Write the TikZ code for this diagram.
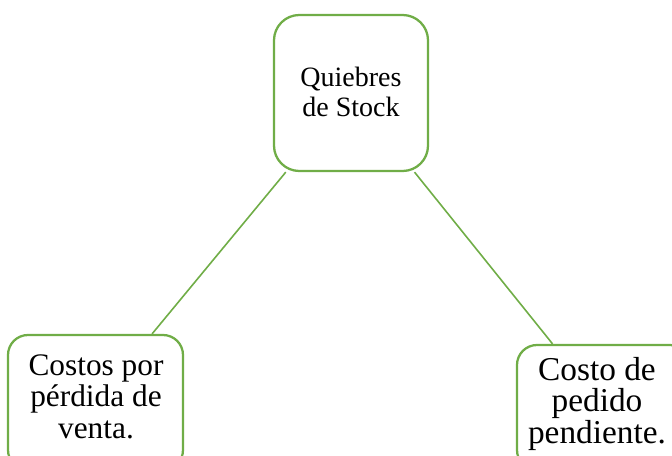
\documentclass[tikz,border=0pt]{standalone}
\usepackage{fontspec}
\setmainfont{Liberation Serif}
\definecolor{boxgreen}{RGB}{112,173,71}
\begin{document}
\begin{tikzpicture}[x=0.75pt,y=-0.75pt,
  gbox/.style={draw=boxgreen,line width=1.7pt,fill=white,rounded corners=19pt,inner sep=0pt},
  conn/.style={draw=boxgreen,line width=1.2pt},
  lbl/.style={align=center,inner sep=0pt,anchor=base,text=black}]
\useasboundingbox (0,0) rectangle (672,456);
\begin{scope}
\clip (0,0) rectangle (672,456);
\node[gbox,minimum width=115.5pt,minimum height=117pt] (top) at (351,93) {};
\node[gbox,minimum width=131.25pt,minimum height=101.25pt,rounded corners=15pt] (left) at (95.5,402.5) {};
\node[gbox,minimum width=129.75pt,minimum height=93.75pt,rounded corners=15pt] (right) at (603.5,407.5) {};
\draw[conn] (top) -- (left);
\draw[conn] (top) -- (right);
\node[lbl,font=\fontsize{21}{22.5}\selectfont] (ttop) at (351,117) {Quiebres\\de Stock};
\node[lbl,font=\fontsize{23.5}{23.6}\selectfont] (tleft) at (96,438) {Costos por\\pérdida de\\venta.};
\node[lbl,font=\fontsize{25}{23.5}\selectfont] (tright) at (597,443) {Costo de\\pedido\\pendiente.};
\end{scope}
\end{tikzpicture}
\end{document}
